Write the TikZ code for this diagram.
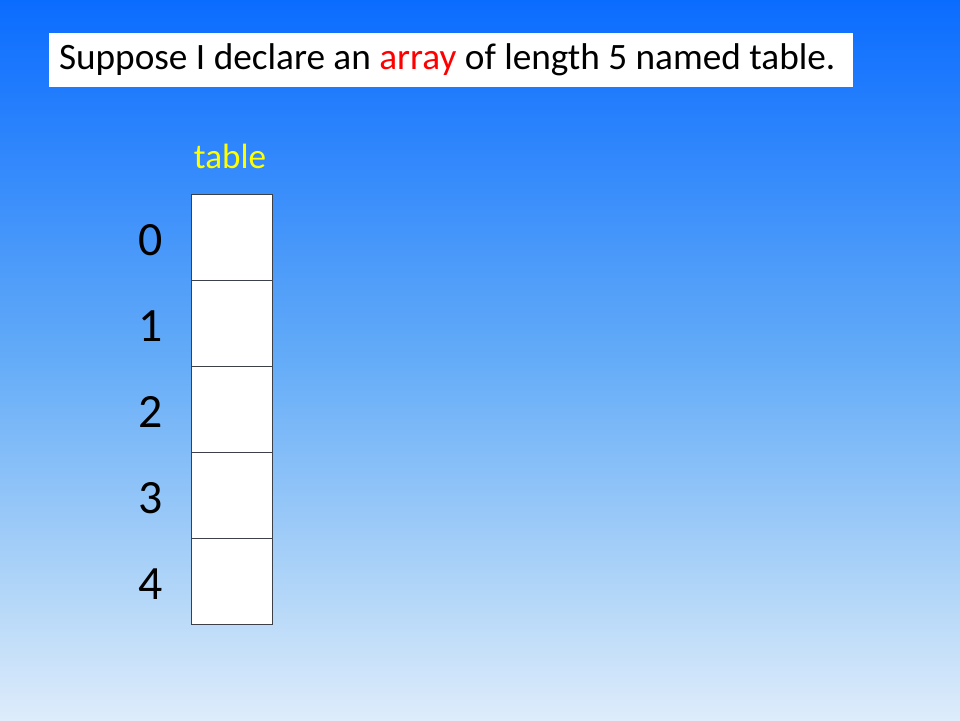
\documentclass[tikz,border=0pt]{standalone}
\usepackage{fontspec}
\setmainfont{Carlito}
\usetikzlibrary{positioning}
\definecolor{ArrBgTop}{RGB}{10,108,255}
\definecolor{ArrBgMid}{RGB}{100,172,248}
\definecolor{ArrBgLow}{RGB}{180,215,248}
\definecolor{ArrBgBottom}{RGB}{222,236,251}
\definecolor{ArrRed}{RGB}{255,0,0}
\definecolor{ArrYellow}{RGB}{255,255,0}
\definecolor{ArrEdge}{RGB}{60,64,72}
% tikz maps the path onto the middle 50bp of the shading
\pgfdeclareverticalshading{arrslide}{100bp}{color(0bp)=(ArrBgBottom); color(25bp)=(ArrBgBottom); color(33.5bp)=(ArrBgLow); color(50bp)=(ArrBgMid); color(75bp)=(ArrBgTop); color(100bp)=(ArrBgTop)}
\tikzset{
  arr/title/.style={
    fill=white,
    text=black,
    minimum width=20.1cm,
    minimum height=1.35cm,
    inner xsep=0.25cm,
    inner ysep=0pt,
    font=\fontsize{26.5}{30}\selectfont
  },
  arr/cell/.style={
    draw=ArrEdge,
    line width=0.6pt,
    fill=white,
    minimum width=2.025cm,
    minimum height=2.15cm,
    inner sep=0pt
  },
  arr/index/.style={font=\fontsize{34}{38}\selectfont, text=black},
  arr/name/.style={font=\fontsize{25}{28}\selectfont, text=ArrYellow}
}
\begin{document}
\begin{tikzpicture}[x=1cm,y=1cm]
  \shade[shading=arrslide] (0,0) rectangle (24,18);
  \useasboundingbox (0,0) rectangle (24,18);
  \node[arr/title] (title) at (11.275,16.5) {\makebox[19.6cm][l]{\raisebox{-2pt}{Suppose I declare an \textcolor{ArrRed}{array} of length 5 named table.}}};
  \node[arr/name] (name) at (5.75,14.1) {table};
  \node[arr/cell] (c0) at (5.7875,12.075) {};
  \node[arr/cell] (c1) at (5.7875,9.925) {};
  \node[arr/cell] (c2) at (5.7875,7.775) {};
  \node[arr/cell] (c3) at (5.7875,5.625) {};
  \node[arr/cell] (c4) at (5.7875,3.475) {};
  \node[arr/index] (i0) at (3.775,12.0) {0};
  \node[arr/index] (i1) at (3.775,9.85) {1};
  \node[arr/index] (i2) at (3.775,7.7) {2};
  \node[arr/index] (i3) at (3.775,5.55) {3};
  \node[arr/index] (i4) at (3.775,3.4) {4};
\end{tikzpicture}
\end{document}
